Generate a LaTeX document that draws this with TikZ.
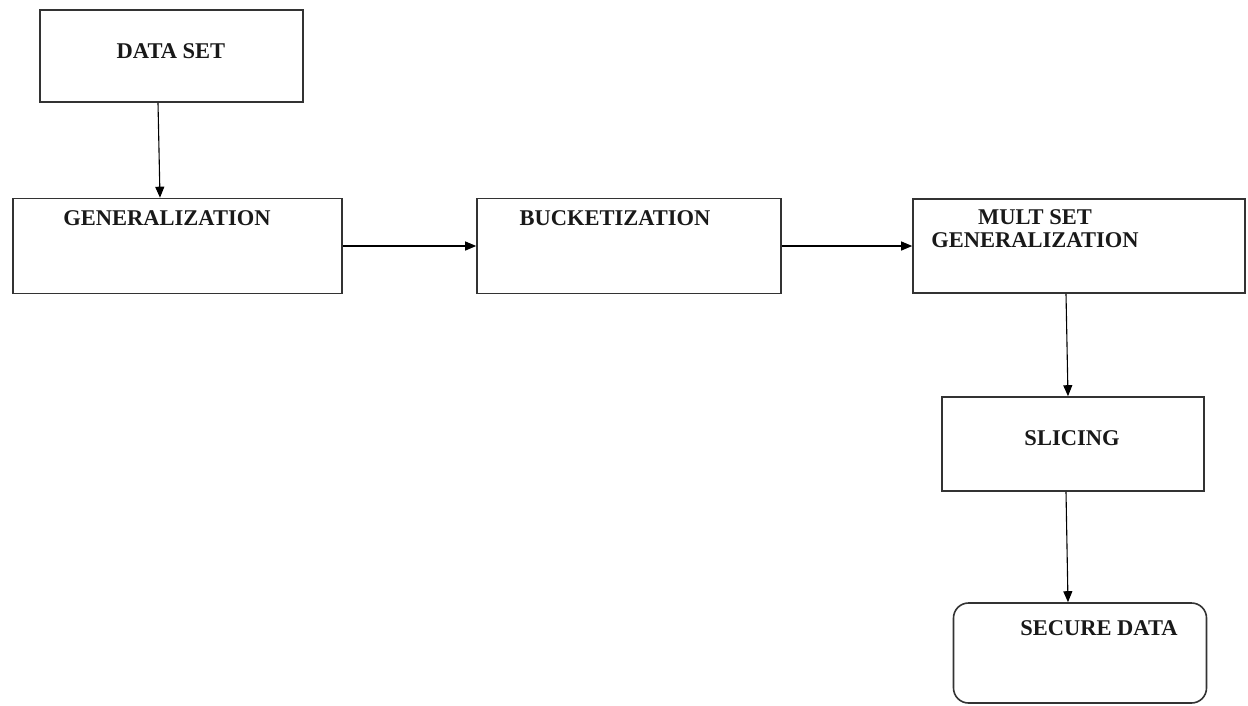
\documentclass[tikz,border=0pt]{standalone}
\usepackage{fontspec}
\setmainfont{Liberation Serif}
\usetikzlibrary{arrows.meta}
\begin{document}
\begin{tikzpicture}[x=1pt,y=-1pt,
  box/.style={draw=black!80,line width=1.6pt,minimum width=#1,inner sep=0pt},
  lbl/.style={font=\fontsize{22.5}{23}\selectfont\bfseries,inner sep=0pt,align=center,text=black!90},
  arr/.style={line width=1.1pt,-{Triangle[length=11pt,width=9pt]}}]
\useasboundingbox (0,0) rectangle (1248,705);
\node[box=263pt,minimum height=92pt] (ds) at (171.5,56) {};
\node[box=329pt,minimum height=95pt] (gen) at (177.5,246) {};
\node[box=304pt,minimum height=95pt] (buck) at (629,246) {};
\node[box=332pt,minimum height=94pt] (mult) at (1079,246) {};
\node[box=262pt,minimum height=94pt] (sl) at (1073,444) {};
\node[box=253pt,minimum height=100pt,rounded corners=15pt] (sec) at (1080,653) {};
\node[lbl] (tds) at (171,51) {DATA SET};
\node[lbl] (tgen) at (167,218) {GENERALIZATION};
\node[lbl] (tbuck) at (615,218) {BUCKETIZATION};
\node[lbl] (tmult) at (1035,229) {MULT SET\\GENERALIZATION};
\node[lbl] (tsl) at (1072,438) {SLICING};
\node[lbl] (tsec) at (1099,628) {SECURE DATA};
\draw[arr] (ds.south -| 158,0) -- (gen.north -| 160,0);
\draw[arr] (gen.east) -- (buck.west);
\draw[arr] (buck.east) -- (mult.west);
\draw[arr] (mult.south -| 1066,0) -- (sl.north -| 1068,0);
\draw[arr] (sl.south -| 1066,0) -- (sec.north -| 1068,0);
\end{tikzpicture}
\end{document}
